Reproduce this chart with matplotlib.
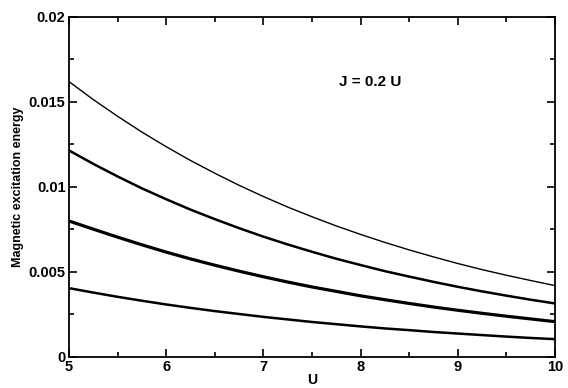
import matplotlib
matplotlib.use("Agg")
import matplotlib.pyplot as plt
from matplotlib.ticker import MultipleLocator, FixedFormatter, FixedLocator

plt.rcParams['font.family'] = ['Liberation Sans', 'DejaVu Sans']
plt.rcParams['font.weight'] = 'bold'

# values
U = [5.0, 5.25, 5.5, 5.75, 6.0, 6.25, 6.5, 6.75, 7.0, 7.25, 7.5,
     7.75, 8.0, 8.25, 8.5, 8.75, 9.0, 9.25, 9.5, 9.75, 10.0]
curve_top = [0.0162, 0.01514, 0.01416, 0.01323, 0.01237, 0.01156, 0.01081, 0.0101, 0.00944, 0.00882, 0.00825,
             0.00771, 0.00721, 0.00674, 0.0063, 0.00589, 0.0055, 0.00514, 0.00481, 0.0045, 0.0042]
curve_2 = [0.01215, 0.01136, 0.01062, 0.00992, 0.00928, 0.00867, 0.00811, 0.00758, 0.00708, 0.00662, 0.00619,
           0.00578, 0.00541, 0.00505, 0.00473, 0.00442, 0.00413, 0.00386, 0.00361, 0.00337, 0.00315]
curve_3 = [0.0080, 0.00752, 0.00705, 0.0066, 0.00617, 0.00577, 0.0054, 0.00505, 0.00472, 0.00441, 0.00412,
           0.00386, 0.0036, 0.00337, 0.00315, 0.00294, 0.00275, 0.00257, 0.0024, 0.00224, 0.00208]
curve_bottom = [0.00405, 0.00379, 0.00354, 0.00331, 0.00309, 0.00289, 0.0027, 0.00253, 0.00236, 0.00221, 0.00206,
                0.00193, 0.0018, 0.00168, 0.00158, 0.00147, 0.00138, 0.00129, 0.0012, 0.00112, 0.00105]

xticks = [5, 6, 7, 8, 9, 10]
yticks = [0, 0.005, 0.01, 0.015, 0.02]
ytick_labels = ["0", "0.005", "0.01", "0.015", "0.02"]

fig = plt.figure(figsize=(5.68, 3.88), dpi=100)
ax = fig.add_axes([0.1215, 0.0799, 0.8555, 0.8763])

style = dict(color="black", solid_joinstyle="round", solid_capstyle="butt")
ax.plot(U, curve_top, lw=1.0, **style)
ax.plot(U, curve_2, lw=1.8, **style)
ax.plot(U, curve_3, lw=2.3, **style)
ax.plot(U, curve_bottom, lw=1.8, **style)

ax.set_xlim(5, 10)
ax.set_ylim(0, 0.02)
ax.xaxis.set_major_locator(FixedLocator(xticks))
ax.xaxis.set_minor_locator(MultipleLocator(0.5))
ax.yaxis.set_major_locator(FixedLocator(yticks))
ax.yaxis.set_major_formatter(FixedFormatter(ytick_labels))
ax.yaxis.set_minor_locator(MultipleLocator(0.0025))

ax.tick_params(which="both", direction="in", top=True, right=True, width=1.2, labelsize=10.5)
ax.tick_params(which="major", length=6, pad=2.5)
ax.tick_params(which="minor", length=3.5)
for s in ax.spines.values():
    s.set_linewidth(1.3)

ax.set_xlabel("U", fontsize=10, fontweight="bold", labelpad=-1)
ax.set_ylabel("Magnetic excitation energy", fontsize=9, fontweight="bold", labelpad=3)
ax.text(7.78, 0.0162, "J = 0.2 U", fontsize=11, fontweight="bold", va="center")

fig.savefig("out.png", dpi=100)
